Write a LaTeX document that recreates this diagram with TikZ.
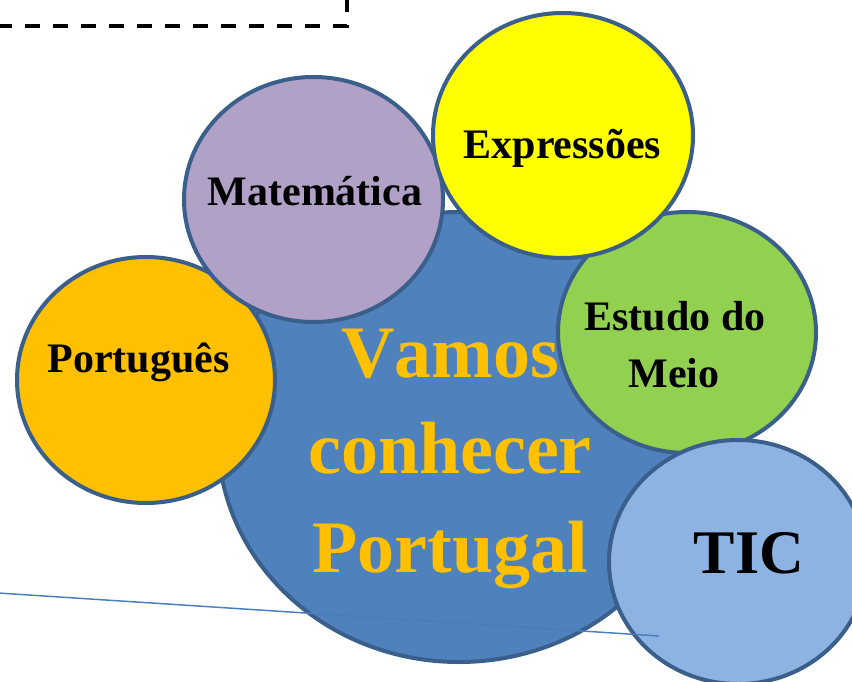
\documentclass[tikz,border=0pt]{standalone}
\usepackage{fontspec}
\setmainfont{Liberation Serif}
\usetikzlibrary{shapes.geometric}
\definecolor{bigblue}{HTML}{4F81BD}
\definecolor{rimblue}{HTML}{3A5F8B}
\definecolor{cportugues}{HTML}{FFC000}
\definecolor{cmat}{HTML}{B2A1C7}
\definecolor{cexpr}{HTML}{FFFF00}
\definecolor{cestudo}{HTML}{92D050}
\definecolor{ctic}{HTML}{8DB3E2}
\definecolor{thinblue}{HTML}{4A7EBB}
\definecolor{goldtext}{HTML}{FFC000}
\tikzset{
  bubble/.style={ellipse, draw=rimblue, line width=3pt, inner sep=0pt},
  smalllabel/.style={anchor=base, inner sep=0pt, font=\fontsize{31.5}{36}\selectfont\bfseries, text=black},
  biglabel/.style={anchor=base, inner sep=0pt, font=\fontsize{55.5}{64}\selectfont\bfseries\addfontfeatures{Kerning=Off}, text=goldtext},
  ticlabel/.style={anchor=base, inner sep=0pt, font=\fontsize{46.5}{54}\selectfont\bfseries, text=black},
  dashline/.style={line width=2.6pt, dash pattern=on 11.25pt off 9.75pt, black},
  thinline/.style={line width=1.1pt, thinblue}
}
\begin{document}
\begin{tikzpicture}[x=0.75pt, y=-0.75pt]
\useasboundingbox (0,0) rectangle (852,681);
\clip (0,0) rectangle (852,681);
% dashed frame corner
\coordinate (d1) at (347,-3);
\coordinate (d2) at (347,26);
\coordinate (d3) at (-5,26);
\draw[dashline] (d1) -- (d2) -- (d3);
% bubbles
\node[bubble, fill=bigblue, minimum width=361.5pt, minimum height=337.5pt] (big) at (459,437) {};
\node[bubble, fill=cportugues, minimum width=193.5pt, minimum height=184.5pt] (port) at (146,380) {};
\node[bubble, fill=cmat, minimum width=194.25pt, minimum height=183.75pt] (mat) at (313.5,199.5) {};
\node[bubble, fill=cestudo, minimum width=193.5pt, minimum height=180.75pt] (estudo) at (687,332.5) {};
\node[bubble, fill=cexpr, minimum width=195pt, minimum height=183.75pt] (expr) at (563,135.5) {};
\node[bubble, fill=ctic, minimum width=193.5pt, minimum height=183pt] (tic) at (738,562) {};
% labels
\node[smalllabel] (tport) at (138.5,372) {Português};
\node[smalllabel] (tmat) at (315,205) {Matemática};
\node[smalllabel] (texpr) at (562.5,158) {Expressões};
\node[smalllabel] (testudo1) at (675,330) {Estudo do};
\node[smalllabel] (testudo2) at (674,387) {Meio};
\node[ticlabel] (ttic) at (749,573) {TIC};
\node[biglabel] (tvamos) at (450,377) {Vamos};
\node[biglabel] (tconhecer) at (450,473) {conhecer};
\node[biglabel] (tportugal) at (450,572) {Portugal};
% thin line
\coordinate (l1) at (-2,593);
\coordinate (l2) at (659,636);
\draw[thinline] (l1) -- (l2);
\end{tikzpicture}
\end{document}
